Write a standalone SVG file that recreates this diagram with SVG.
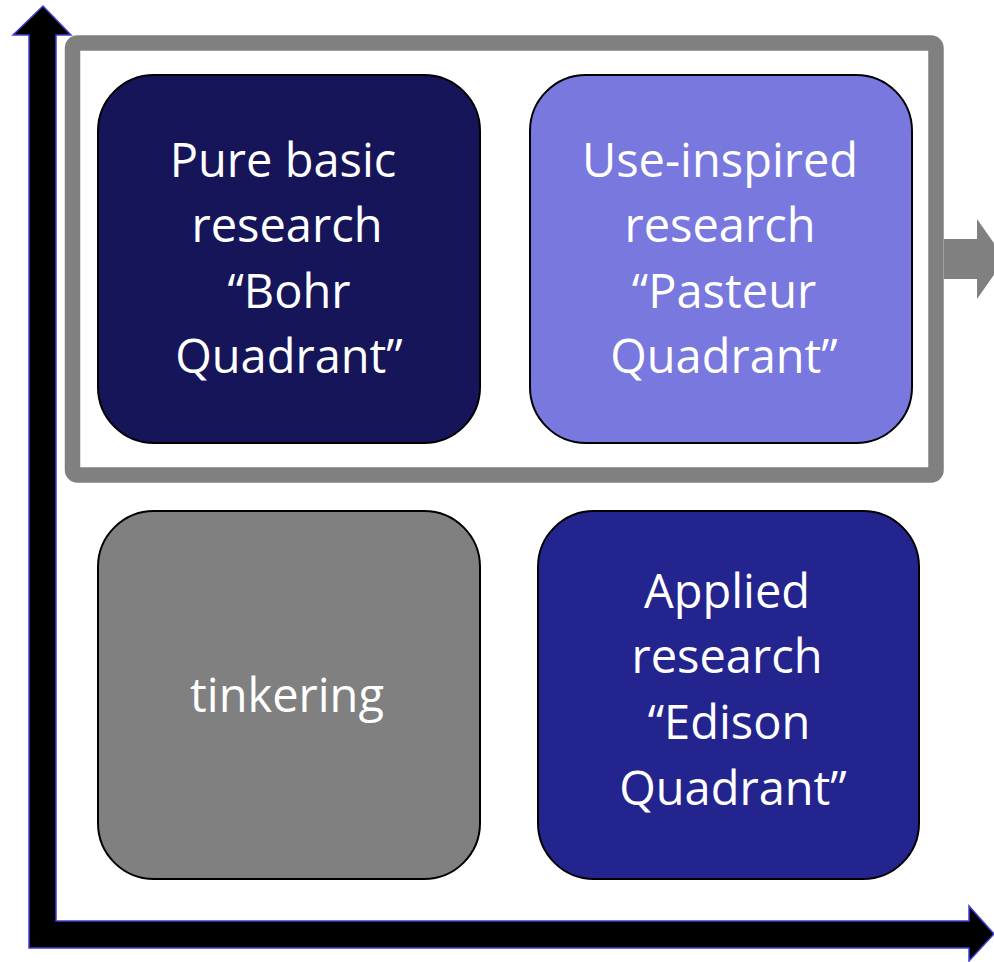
<svg xmlns="http://www.w3.org/2000/svg" width="994" height="962" viewBox="0 0 994 962">
<style>
.axis{fill:#000;stroke:#4040d0;stroke-width:1.5}
.box{stroke:#000;stroke-width:2}
.t{font-family:"Open Sans","Noto Sans","Liberation Sans",sans-serif;font-size:47px;fill:#fff;text-anchor:middle}
</style>
<rect width="994" height="962" fill="#fff"/>
<g id="frame">
<rect x="72.5" y="43" width="863.5" height="432" rx="5" fill="none" stroke="#808080" stroke-width="15.5"/>
<polygon points="944,239 977,239 977,219 1005,259 977,299 977,279 944,279" fill="#808080"/>
</g>
<g id="axes">
<polygon class="axis" points="29,948 29,35 13,35 43,6 71,35 56,35 56,921 969,921 969,906 994,934 969,961 969,948"/>
</g>
<g id="bohr">
<rect class="box" x="98" y="75" width="382" height="368" rx="56" fill="#16155a"/>
<text class="t" x="283" y="177">Pure basic</text>
<text class="t" x="287" y="242">research</text>
<text class="t" x="289" y="308">“Bohr</text>
<text class="t" x="289" y="373">Quadrant”</text>
</g>
<g id="pasteur">
<rect class="box" x="530" y="75" width="382" height="368" rx="56" fill="#7878de"/>
<text class="t" x="720" y="177">Use-inspired</text>
<text class="t" x="720" y="242">research</text>
<text class="t" x="724" y="308">“Pasteur</text>
<text class="t" x="724" y="373">Quadrant”</text>
</g>
<g id="tinkering">
<rect class="box" x="98" y="511" width="382" height="368" rx="56" fill="#808080"/>
<text class="t" x="287" y="712">tinkering</text>
</g>
<g id="edison">
<rect class="box" x="538" y="511" width="381" height="368" rx="56" fill="#24248f"/>
<text class="t" x="727" y="608">Applied</text>
<text class="t" x="727" y="673">research</text>
<text class="t" x="729" y="739">“Edison</text>
<text class="t" x="733" y="805">Quadrant”</text>
</g>
</svg>
